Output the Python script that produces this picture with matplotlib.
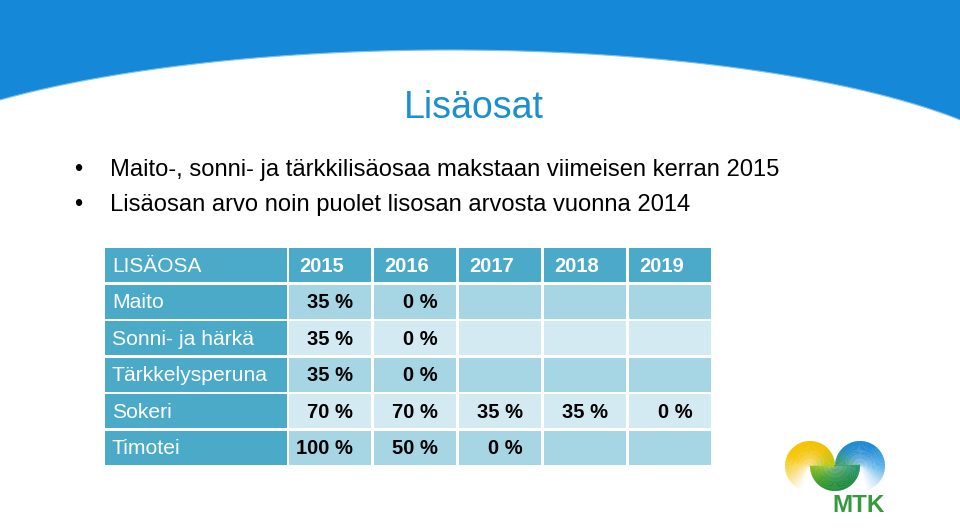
import numpy as np
import matplotlib
matplotlib.use('Agg')
import matplotlib.pyplot as plt
from matplotlib.patches import Rectangle, Wedge, Polygon
from matplotlib.colors import to_rgb

plt.rcParams['font.family'] = ['Liberation Sans', 'DejaVu Sans']

# --- data ---
title = 'Lisäosat'
bullets = ['Maito-, sonni- ja tärkkilisäosaa makstaan viimeisen kerran 2015',
           'Lisäosan arvo noin puolet lisosan arvosta vuonna 2014']
header = 'LISÄOSA'
years = ['2015', '2016', '2017', '2018', '2019']
parts = ['Maito', 'Sonni- ja härkä', 'Tärkkelysperuna', 'Sokeri', 'Timotei']
maito = [35, 0, None, None, None]
sonni = [35, 0, None, None, None]
tarkkely = [35, 0, None, None, None]
sokeri = [70, 70, 35, 35, 0]
timotei = [100, 50, 0, None, None]
shares = [maito, sonni, tarkkely, sokeri, timotei]

# --- colours ---
blue = '#1589d8'
title_col = '#1a8fd2'
head_col = '#4aaac7'
band_dark = '#a6d5e3'
band_light = '#d3eaf2'

fig = plt.figure(figsize=(9.6, 5.3), dpi=100)
ax = fig.add_axes([0, 0, 1, 1])
ax.set_xlim(0, 960)
ax.set_ylim(530, 0)
ax.axis('off')

# header band with curved lower edge
xs = np.linspace(0, 960, 300)
a, b, cx = 600.0, 147.5, 450.0
ys = 50 + b * (1 - np.sqrt(1 - ((xs - cx) / a) ** 2))
verts = [(0, 0)] + list(zip(xs, ys)) + [(960, 0)]
ax.add_patch(Polygon(verts, closed=True, facecolor=blue, edgecolor='none'))
ax.plot(xs, ys, color='#7cc0ee', lw=0.8)

ax.text(474, 108, title, color=title_col, fontsize=27, ha='center', va='center')

for i, t in enumerate(bullets):
    y = 170 + i * 35
    ax.text(78, y, '•', fontsize=17, ha='center', va='center', color='black')
    ax.text(110, y, t, fontsize=17.1, ha='left', va='center', color='black')

# --- table ---
top = 248
pitch = 36.6
gap = 2.6
x0, w0 = 105, 182
cw = 85
xc = x0 + w0 + 1.5

ax.add_patch(Rectangle((x0, top), w0, pitch - gap, facecolor=head_col, edgecolor='none'))
ax.text(x0 + 7, top + (pitch - gap) / 2 + 1, header, color='white', fontsize=15,
        ha='left', va='center')
for j, yr in enumerate(years):
    cl = xc + j * cw
    ax.add_patch(Rectangle((cl, top), cw - gap, pitch - gap, facecolor=head_col, edgecolor='none'))
    ax.text(cl + 11, top + (pitch - gap) / 2 + 1, yr, color='white', fontsize=14.5,
            fontweight='bold', ha='left', va='center')

for i, (p, vals) in enumerate(zip(parts, shares)):
    yt = top + (i + 1) * pitch
    yc = yt + (pitch - gap) / 2 + 1
    band = band_dark if i % 2 == 0 else band_light
    ax.add_patch(Rectangle((x0, yt), w0, pitch - gap, facecolor=head_col, edgecolor='none'))
    ax.text(x0 + 7, yc, p, color='white', fontsize=15.2, ha='left', va='center')
    for j, v in enumerate(vals):
        cl = xc + j * cw
        ax.add_patch(Rectangle((cl, yt), cw - gap, pitch - gap, facecolor=band, edgecolor='none'))
        if v is not None:
            ax.text(cl + cw - gap - 18, yc, f'{v} %', color='black', fontsize=14.5,
                    fontweight='bold', ha='right', va='center')

# --- MTK logo: three half discs with sweep gradients ---
def blob(cx, cy, stops, r=25, n=70, nr=6, pale=0.5):
    angs = np.array([s[0] for s in stops], dtype=float)
    cols = np.array([to_rgb(s[1]) for s in stops])
    sgn = 1 if angs[-1] > angs[0] else -1
    th = np.linspace(angs[0], angs[-1], n)
    step = th[1] - th[0]
    for t in th:
        c = np.array([np.interp(sgn * t, sgn * angs, cols[:, k]) for k in range(3)])
        lo, hi = sorted([t, t + step])
        for q in range(nr):
            f0, f1 = q / nr, (q + 1) / nr
            fm = (f0 + f1) / 2
            cc = np.clip(c + (1 - c) * pale * (1 - fm) ** 2, 0, 1)
            # y axis is inverted: visual angle -> data angle
            ax.add_patch(Wedge((cx, cy), r * f1, -hi - 0.5, -lo + 0.5, width=r * (f1 - f0) + 0.4,
                               facecolor=cc, edgecolor='none'))

blob(810, 466, [(0, '#b8c810'), (50, '#f0bf00'), (150, '#f7c600'),
                (200, '#f9dc78'), (250, '#ffffff')])
blob(860, 466, [(180, '#3d9f6a'), (130, '#1f8bc8'), (60, '#1e88d6'),
                (0, '#5ab2ea'), (-40, '#c4e2f6'), (-75, '#ffffff')])
blob(835, 466, [(180, '#8fbf1e'), (225, '#3a9d2c'), (270, '#1e8a3a'),
                (320, '#1f8c48'), (360, '#2d9a70')], pale=0.25)
ax.text(859, 505, 'MTK', color='#35993d', fontsize=17.5, fontweight='bold',
        ha='center', va='center')

fig.savefig('out.png', dpi=100)
